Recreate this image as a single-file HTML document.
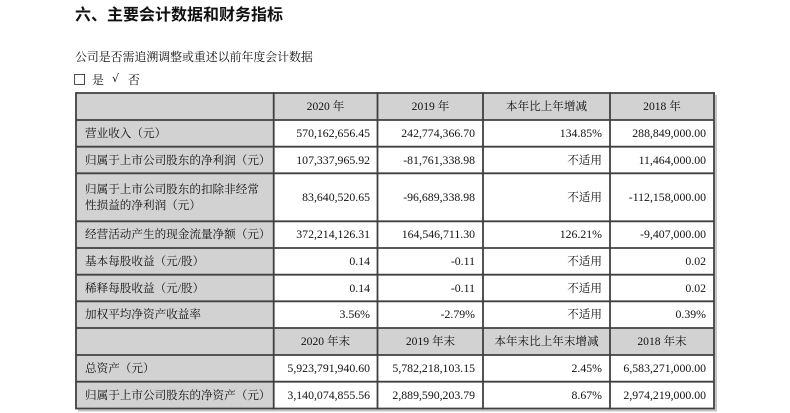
<!DOCTYPE html>
<html><head><meta charset="utf-8">
<style>
html,body{margin:0;padding:0;background:#fff;}
body{width:790px;height:413px;position:relative;overflow:hidden;font-family:"Liberation Serif","Noto Serif CJK SC",serif;color:#111;}
.t{position:absolute;white-space:nowrap;}
.c{position:absolute;display:flex;align-items:center;font-size:11.6px;line-height:15.7px;padding-top:1px;box-sizing:border-box;white-space:nowrap;}
.l{justify-content:flex-start;padding-left:9px;}
.r{justify-content:flex-end;padding-right:8px;}
.m{justify-content:center;}
.n{font-size:11.8px;}
</style></head><body>
<svg width="790" height="413" style="position:absolute;left:0;top:0">
  <rect x="76" y="93" width="638" height="27" fill="#d2d2d2"/>
  <rect x="76" y="328" width="638" height="27" fill="#d2d2d2"/>
  <rect x="76" y="93" width="197.7" height="315.5" fill="#d2d2d2"/>
  <rect x="715" y="95" width="2" height="315" fill="#c4c4c4"/>
  <rect x="78" y="409.5" width="639" height="2" fill="#c4c4c4"/>
  <g stroke="#404040" stroke-width="1.8" fill="none">
    <line x1="76" y1="93" x2="714" y2="93"/>
    <line x1="76" y1="120" x2="714" y2="120"/>
    <line x1="76" y1="146.7" x2="714" y2="146.7"/>
    <line x1="76" y1="173.3" x2="714" y2="173.3"/>
    <line x1="76" y1="221.3" x2="714" y2="221.3"/>
    <line x1="76" y1="248" x2="714" y2="248"/>
    <line x1="76" y1="274.7" x2="714" y2="274.7"/>
    <line x1="76" y1="301.3" x2="714" y2="301.3"/>
    <line x1="76" y1="328" x2="714" y2="328"/>
    <line x1="76" y1="355" x2="714" y2="355"/>
    <line x1="76" y1="381.7" x2="714" y2="381.7"/>
    <line x1="76" y1="408.5" x2="714" y2="408.5"/>
    <line x1="76" y1="92.1" x2="76" y2="409.4"/>
    <line x1="273.7" y1="92.1" x2="273.7" y2="409.4"/>
    <line x1="377.5" y1="92.1" x2="377.5" y2="409.4"/>
    <line x1="483" y1="92.1" x2="483" y2="409.4"/>
    <line x1="610" y1="92.1" x2="610" y2="409.4"/>
    <line x1="714" y1="92.1" x2="714" y2="409.4"/>
  </g>
</svg>

<div class="t" style="left:75px;top:7px;font-family:'Liberation Sans','Noto Sans CJK SC',sans-serif;font-weight:bold;font-size:16px;line-height:18px;">六、主要会计数据和财务指标</div>
<div class="t" style="left:75px;top:50px;font-size:11.9px;line-height:14px;">公司是否需追溯调整或重述以前年度会计数据</div>
<div class="t" style="left:73px;top:71px;font-family:'DejaVu Sans',sans-serif;font-size:14px;line-height:16px;">□</div>
<div class="t" style="left:92px;top:73px;font-size:11.9px;line-height:14px;">是</div>
<div class="t" style="left:112px;top:72px;font-family:'DejaVu Sans',sans-serif;font-size:11px;line-height:14px;">√</div>
<div class="t" style="left:128px;top:73px;font-size:11.9px;line-height:14px;">否</div>

<div class="c m" style="left:274px;top:93px;width:103px;height:27px;">2020 年</div>
<div class="c m" style="left:378px;top:93px;width:105px;height:27px;">2019 年</div>
<div class="c m" style="left:483px;top:93px;width:127px;height:27px;">本年比上年增减</div>
<div class="c m" style="left:610px;top:93px;width:104px;height:27px;">2018 年</div>

<div class="c l" style="left:76px;top:120px;width:198px;height:26.7px;">营业收入（元）</div>
<div class="c r n" style="left:274px;top:120px;width:104px;height:26.7px;">570,162,656.45</div>
<div class="c r n" style="left:378px;top:120px;width:105px;height:26.7px;">242,774,366.70</div>
<div class="c r n" style="left:483px;top:120px;width:127px;height:26.7px;">134.85%</div>
<div class="c r n" style="left:610px;top:120px;width:104px;height:26.7px;">288,849,000.00</div>

<div class="c l" style="left:76px;top:146.7px;width:198px;height:26.7px;">归属于上市公司股东的净利润（元）</div>
<div class="c r n" style="left:274px;top:146.7px;width:104px;height:26.7px;">107,337,965.92</div>
<div class="c r n" style="left:378px;top:146.7px;width:105px;height:26.7px;">-81,761,338.98</div>
<div class="c r" style="left:483px;top:146.7px;width:127px;height:26.7px;">不适用</div>
<div class="c r n" style="left:610px;top:146.7px;width:104px;height:26.7px;">11,464,000.00</div>

<div class="c l" style="left:76px;top:173.3px;width:198px;height:48px;">归属于上市公司股东的扣除非经常<br>性损益的净利润（元）</div>
<div class="c r n" style="left:274px;top:173.3px;width:104px;height:48px;">83,640,520.65</div>
<div class="c r n" style="left:378px;top:173.3px;width:105px;height:48px;">-96,689,338.98</div>
<div class="c r" style="left:483px;top:173.3px;width:127px;height:48px;">不适用</div>
<div class="c r n" style="left:610px;top:173.3px;width:104px;height:48px;">-112,158,000.00</div>

<div class="c l" style="left:76px;top:221.3px;width:198px;height:26.7px;">经营活动产生的现金流量净额（元）</div>
<div class="c r n" style="left:274px;top:221.3px;width:104px;height:26.7px;">372,214,126.31</div>
<div class="c r n" style="left:378px;top:221.3px;width:105px;height:26.7px;">164,546,711.30</div>
<div class="c r n" style="left:483px;top:221.3px;width:127px;height:26.7px;">126.21%</div>
<div class="c r n" style="left:610px;top:221.3px;width:104px;height:26.7px;">-9,407,000.00</div>

<div class="c l" style="left:76px;top:248px;width:198px;height:26.7px;">基本每股收益（元/股）</div>
<div class="c r n" style="left:274px;top:248px;width:104px;height:26.7px;">0.14</div>
<div class="c r n" style="left:378px;top:248px;width:105px;height:26.7px;">-0.11</div>
<div class="c r" style="left:483px;top:248px;width:127px;height:26.7px;">不适用</div>
<div class="c r n" style="left:610px;top:248px;width:104px;height:26.7px;">0.02</div>

<div class="c l" style="left:76px;top:274.7px;width:198px;height:26.7px;">稀释每股收益（元/股）</div>
<div class="c r n" style="left:274px;top:274.7px;width:104px;height:26.7px;">0.14</div>
<div class="c r n" style="left:378px;top:274.7px;width:105px;height:26.7px;">-0.11</div>
<div class="c r" style="left:483px;top:274.7px;width:127px;height:26.7px;">不适用</div>
<div class="c r n" style="left:610px;top:274.7px;width:104px;height:26.7px;">0.02</div>

<div class="c l" style="left:76px;top:301.3px;width:198px;height:26.7px;">加权平均净资产收益率</div>
<div class="c r n" style="left:274px;top:301.3px;width:104px;height:26.7px;">3.56%</div>
<div class="c r n" style="left:378px;top:301.3px;width:105px;height:26.7px;">-2.79%</div>
<div class="c r" style="left:483px;top:301.3px;width:127px;height:26.7px;">不适用</div>
<div class="c r n" style="left:610px;top:301.3px;width:104px;height:26.7px;">0.39%</div>

<div class="c m" style="left:274px;top:328px;width:103px;height:27px;">2020 年末</div>
<div class="c m" style="left:378px;top:328px;width:105px;height:27px;">2019 年末</div>
<div class="c m" style="left:483px;top:328px;width:127px;height:27px;">本年末比上年末增减</div>
<div class="c m" style="left:610px;top:328px;width:104px;height:27px;">2018 年末</div>

<div class="c l" style="left:76px;top:355px;width:198px;height:26.7px;">总资产（元）</div>
<div class="c r n" style="left:274px;top:355px;width:104px;height:26.7px;">5,923,791,940.60</div>
<div class="c r n" style="left:378px;top:355px;width:105px;height:26.7px;">5,782,218,103.15</div>
<div class="c r n" style="left:483px;top:355px;width:127px;height:26.7px;">2.45%</div>
<div class="c r n" style="left:610px;top:355px;width:104px;height:26.7px;">6,583,271,000.00</div>

<div class="c l" style="left:76px;top:381.7px;width:198px;height:26.7px;">归属于上市公司股东的净资产（元）</div>
<div class="c r n" style="left:274px;top:381.7px;width:104px;height:26.7px;">3,140,074,855.56</div>
<div class="c r n" style="left:378px;top:381.7px;width:105px;height:26.7px;">2,889,590,203.79</div>
<div class="c r n" style="left:483px;top:381.7px;width:127px;height:26.7px;">8.67%</div>
<div class="c r n" style="left:610px;top:381.7px;width:104px;height:26.7px;">2,974,219,000.00</div>
</body></html>
